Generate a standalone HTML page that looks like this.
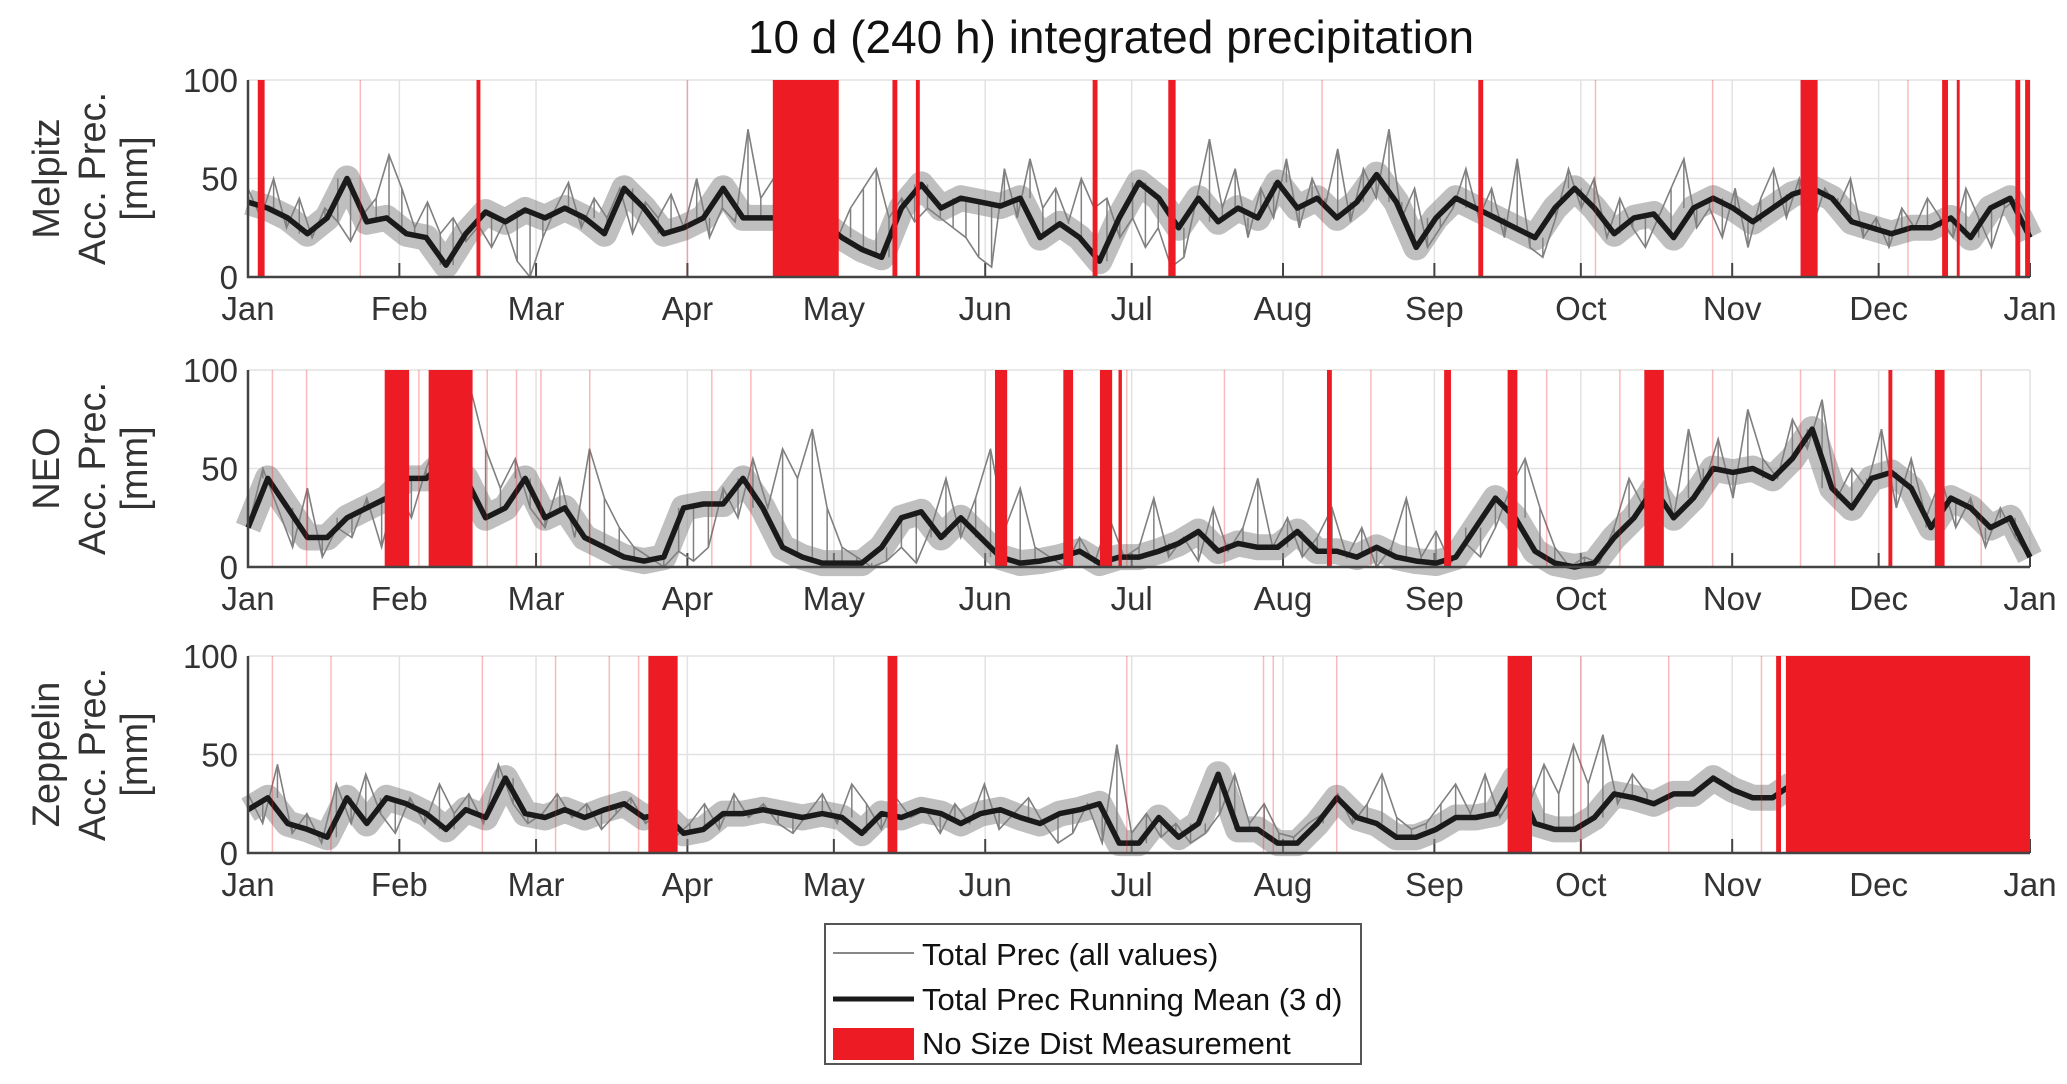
<!DOCTYPE html>
<html><head><meta charset="utf-8"><style>
html,body{margin:0;padding:0;background:#fff}
svg{display:block}
text{font-family:"Liberation Sans",sans-serif;fill:#333}
</style></head><body>
<svg id="fig" width="2067" height="1084" viewBox="0 0 2067 1084" xmlns="http://www.w3.org/2000/svg">
<text x="1111" y="53" font-size="46" text-anchor="middle" fill="#111" style="fill:#111">10 d  (240 h) integrated precipitation</text>
<g>
<rect x="825" y="924" width="536" height="140" fill="#fff" stroke="#555" stroke-width="2"/>
<line x1="833" y1="953" x2="914" y2="953" stroke="#888" stroke-width="2"/>
<text x="922" y="965" font-size="31" style="fill:#111">Total Prec (all values)</text>
<line x1="833" y1="999" x2="914" y2="999" stroke="#1a1a1a" stroke-width="5"/>
<text x="922" y="1010" font-size="31" style="fill:#111">Total Prec Running Mean (3 d)</text>
<rect x="833" y="1028" width="81" height="32" fill="#ed1c24"/>
<text x="922" y="1054" font-size="31" style="fill:#111">No Size Dist Measurement</text>
</g>
</svg>
<script>
const monthLabels=["Jan","Feb","Mar","Apr","May","Jun","Jul","Aug","Sep","Oct","Nov","Dec","Jan"];
const monthDays=[0,31,59,90,120,151,181,212,243,273,304,334,365];
const yTicks=[0,50,100];
const stations=["Melpitz","NEO","Zeppelin"];
const meanMelpitz=[38,35,30,22,30,50,28,30,22,20,6,22,33,28,34,30,35,30,22,45,35,22,25,30,45,30,30,30,30,28,20,14,10,35,47,35,40,38,36,40,20,27,20,8,30,48,40,25,40,28,35,30,48,35,40,30,38,52,38,15,30,40,35,30,25,20,35,45,35,22,30,32,20,35,40,35,28,35,42,45,40,28,25,22,25,25,30,20,35,40,20];
const meanNEO=[20,45,30,15,15,25,30,35,45,45,55,45,25,30,45,25,30,15,10,5,3,5,30,32,32,45,30,10,5,2,2,2,10,25,28,15,25,15,5,2,3,5,8,2,5,5,8,12,18,8,12,10,10,18,8,8,5,10,5,3,2,5,20,35,25,8,2,0,2,15,25,40,25,35,50,48,50,45,55,70,40,30,45,48,40,20,35,30,20,25,5];
const meanZeppelin=[22,28,15,12,8,28,15,28,25,20,12,22,18,38,20,18,22,18,22,25,18,20,10,12,20,20,22,20,18,20,18,10,20,18,22,20,15,20,22,18,15,20,22,25,5,5,18,8,15,40,12,12,5,5,15,28,18,15,8,8,12,18,18,20,38,15,12,12,18,30,28,25,30,30,38,32,28,28,35,null,null,null,null,null,null,null,null,null,null,null,null];
const rawMelpitz=[45,30,50,25,40,20,35,28,18,32,40,62,45,25,38,22,30,18,26,15,28,8,0,20,35,48,25,40,30,45,22,38,30,42,25,50,20,35,28,75,40,50,25,35,18,28,20,35,45,55,30,40,28,35,30,25,20,10,5,55,30,60,35,45,28,50,35,40,20,30,15,25,5,10,40,70,35,55,20,45,30,60,25,50,35,65,28,55,40,75,30,45,15,25,35,55,30,45,20,60,15,10,30,55,35,50,20,40,25,15,30,45,60,25,35,20,45,15,40,55,30,50,25,45,35,50,20,30,15,35,25,40,30,20,45,30,15,35,40,25];
const rawNEO=[20,50,30,10,40,5,20,15,35,10,40,25,50,70,45,90,60,40,55,30,20,45,15,60,35,20,10,5,0,8,3,10,40,25,55,30,60,45,70,30,10,5,0,3,10,2,20,45,15,35,60,20,40,10,5,0,15,2,25,5,10,35,5,15,3,30,8,20,45,10,25,5,15,30,5,20,0,10,35,5,18,2,12,5,20,40,55,30,10,0,5,2,20,45,30,60,25,70,40,65,35,80,55,45,75,60,85,35,50,40,70,30,55,25,45,20,35,10,30,15,5];
const rawZeppelin=[30,15,45,10,20,5,35,15,40,20,10,28,15,35,20,30,15,45,25,15,20,30,18,25,12,20,28,15,22,8,15,25,12,30,18,25,15,10,20,30,15,35,25,12,28,18,22,10,25,15,35,12,20,28,15,5,10,25,5,55,10,20,8,15,5,10,20,40,15,25,10,8,15,20,30,15,25,40,18,12,15,25,35,20,40,18,30,25,45,30,55,35,60,25,40,30,null,null,null,null,null,null,null,null,null,null,null,null,null,null,null,null,null,null,null,null,null,null,null,null,null,null];
const gapsMelpitz=[[2,3.4],[46.8,47.6],[107.5,121],[132,133],[136.8,137.6],[173,174],[188.5,190],[252,253],[318,321.5],[347,348.2],[350,350.6],[362,363],[364,365]];
const gapsNEO=[[28,33],[37,46],[153,155.5],[167,169],[174.5,177],[178.3,179],[221,222],[245,246.4],[258,260],[286,290],[336,336.8],[345.5,347.5]];
const gapsZeppelin=[[82,88],[131,133],[258,263],[313,314],[315,365]];
const faintMelpitz=[23,90,220,276,300,340];
const faintNEO=[5,12,35,49,55,60,70,95,103,180,200,230,266,281,300,318,325,355];
const faintZeppelin=[5,17,48,63,74,80,132,180,208,210,223,273,291,310];

const NS='http://www.w3.org/2000/svg';
const svg=document.getElementById('fig');
const L=248,R=2030;
const tops=[80,370,656],H=197;
function xS(d){return L+(R-L)*d/365;}
function mk(tag,attrs,parent){const e=document.createElementNS(NS,tag);for(const k in attrs)e.setAttribute(k,attrs[k]);(parent||svg).appendChild(e);return e;}
function path(vals,yS){let d='',pen=false;const n=vals.length;vals.forEach((v,i)=>{if(v===null){pen=false;return;}const x=xS(i*365/(n-1)),y=yS(v);d+=(pen?'L':'M')+x.toFixed(1)+' '+y.toFixed(1);pen=true;});return d;}
const means=[meanMelpitz,meanNEO,meanZeppelin];
const raws=[rawMelpitz,rawNEO,rawZeppelin];
const gaps=[gapsMelpitz,gapsNEO,gapsZeppelin];
const faints=[faintMelpitz,faintNEO,faintZeppelin];
stations.forEach((st,p)=>{
  const T=tops[p],B=T+H;
  const yS=v=>B-H*v/100;
  const g=mk('g',{});
  
  
  monthDays.forEach((d,i)=>{
    const gl=mk('line',{x1:xS(d),x2:xS(d),y1:T,y2:B,stroke:'#e2e2e2','stroke-width':1.5},g);
    
    
    const t=mk('text',{x:xS(d),y:B+43,'font-size':33,'text-anchor':'middle'},g);
    t.textContent=monthLabels[i];
    
    
    const tk=mk('line',{x1:xS(d),x2:xS(d),y1:B,y2:B-14,stroke:'#444','stroke-width':2},g);
    
    
  });
  yTicks.forEach(v=>{
    const gl=mk('line',{x1:L,x2:R,y1:yS(v),y2:yS(v),stroke:'#e2e2e2','stroke-width':1.5},g);
    
    
    const t=mk('text',{x:L-10,y:yS(v)+12,'font-size':33,'text-anchor':'end'},g);
    t.textContent=v;
    
    
  });
  const band=mk('path',{d:path(means[p],yS),fill:'none',stroke:'#8a8a8a','stroke-opacity':0.55,'stroke-width':26,'stroke-linejoin':'round'},g);
  
  
  const n=raws[p].length,nm=means[p].length;
  raws[p].forEach((v,i)=>{
    if(v===null)return;
    const d=i*365/(n-1);
    const mv=means[p][Math.round(d/365*(nm-1))];
    const base=mv===null?v:mv;
    const s=mk('line',{x1:xS(d),x2:xS(d),y1:yS(base),y2:yS(v),stroke:'#808080','stroke-width':1.5},g);
    
    
  });
  const rl=mk('path',{d:path(raws[p],yS),fill:'none',stroke:'#808080','stroke-width':1.6},g);
  
  
  const ml=mk('path',{d:path(means[p],yS),fill:'none',stroke:'#1a1a1a','stroke-width':5.5,'stroke-linejoin':'round'},g);
  
  
  faints[p].forEach(d=>{
    const f=mk('line',{x1:xS(d),x2:xS(d),y1:T,y2:B,stroke:'#ed1c24','stroke-opacity':0.3,'stroke-width':1.5},g);
    
    
  });
  gaps[p].forEach(gp=>{
    const r=mk('rect',{x:xS(gp[0]),y:T,width:Math.max(2,xS(gp[1])-xS(gp[0])),height:H,fill:'#ed1c24'},g);
    
    
  });
  const ax=mk('path',{d:`M${L} ${T}V${B}H${R}`,fill:'none',stroke:'#444','stroke-width':2.5},g);
  
  
  const lines=[st,'Acc. Prec.','[mm]'],xs=[46,92,134];
  lines.forEach((s,i)=>{
    const cy=T+H/2;
    const t=mk('text',{x:xs[i],y:cy+13,'font-size':38,'text-anchor':'middle',transform:`rotate(-90 ${xs[i]} ${cy})`},g);
    t.textContent=s;
    
    
  });
});
</script>
</body></html>
